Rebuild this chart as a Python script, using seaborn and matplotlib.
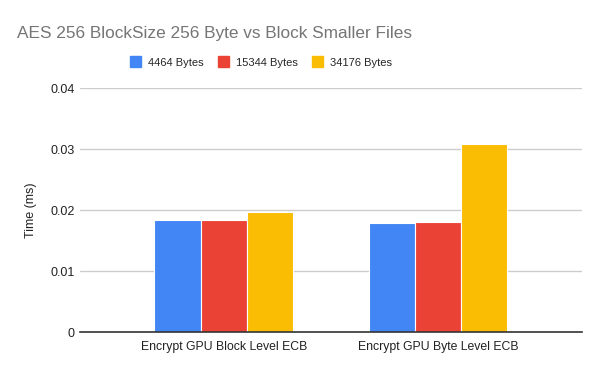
import matplotlib
matplotlib.use("Agg")
import matplotlib.pyplot as plt
import seaborn as sns
import pandas as pd
from matplotlib.patches import Patch

categories = ["Encrypt GPU Block Level ECB", "Encrypt GPU Byte Level ECB"]
series_names = ["4464 Bytes", "15344 Bytes", "34176 Bytes"]
vals_4464 = [0.0184, 0.0179]
vals_15344 = [0.0184, 0.0181]
vals_34176 = [0.0198, 0.0309]
colors = ["#4285F4", "#EA4335", "#FBBC04"]
yticks = [0, 0.01, 0.02, 0.03, 0.04]
ytick_labels = ["0", "0.01", "0.02", "0.03", "0.04"]

rows = []
for name, vals in zip(series_names, [vals_4464, vals_15344, vals_34176]):
    for c, v in zip(categories, vals):
        rows.append({"category": c, "series": name, "value": v})
df = pd.DataFrame(rows)

sns.set_theme(style="white")
plt.rcParams["font.family"] = ["Liberation Sans", "DejaVu Sans"]

fig = plt.figure(figsize=(6, 3.71), dpi=100)
ax = fig.add_axes([0.1333, 0.1043, 0.8362, 0.6577])

sns.barplot(data=df, x="category", y="value", hue="series", hue_order=series_names,
            palette=colors, width=0.645, ax=ax, legend=False,
            edgecolor="white", linewidth=0.8, saturation=1)

ax.set_xlim(-0.67, 1.67)
ax.set_ylim(0, 0.04)
ax.set_yticks(yticks)
ax.set_yticklabels(ytick_labels)
ax.yaxis.grid(True, color="#cccccc", linewidth=1)
ax.set_axisbelow(True)
for s in ["top", "right", "left"]:
    ax.spines[s].set_visible(False)
ax.spines["bottom"].set_color("#333333")
ax.spines["bottom"].set_linewidth(1.2)
ax.tick_params(axis="x", length=0, labelsize=8.8, colors="#222222", pad=6)
ax.tick_params(axis="y", length=0, labelsize=9, colors="#222222", pad=4)
ax.set_xlabel("")
ax.set_ylabel("Time (ms)", fontsize=9, color="#222222")
ax.yaxis.set_label_coords(-0.085, 0.5)

fig.text(0.028, 0.91, "AES 256 BlockSize 256 Byte vs Block Smaller Files",
         fontsize=12.4, color="#757575", va="center", ha="left")

handles = [Patch(facecolor=c, edgecolor=c, label=n) for c, n in zip(colors, series_names)]
fig.legend(handles=handles, loc="center", bbox_to_anchor=(0.435, 0.833), ncol=3,
           frameon=False, fontsize=8, handlelength=1.0, handleheight=1.1,
           handletextpad=0.6, columnspacing=1.3)

fig.savefig("out.png", dpi=100)
